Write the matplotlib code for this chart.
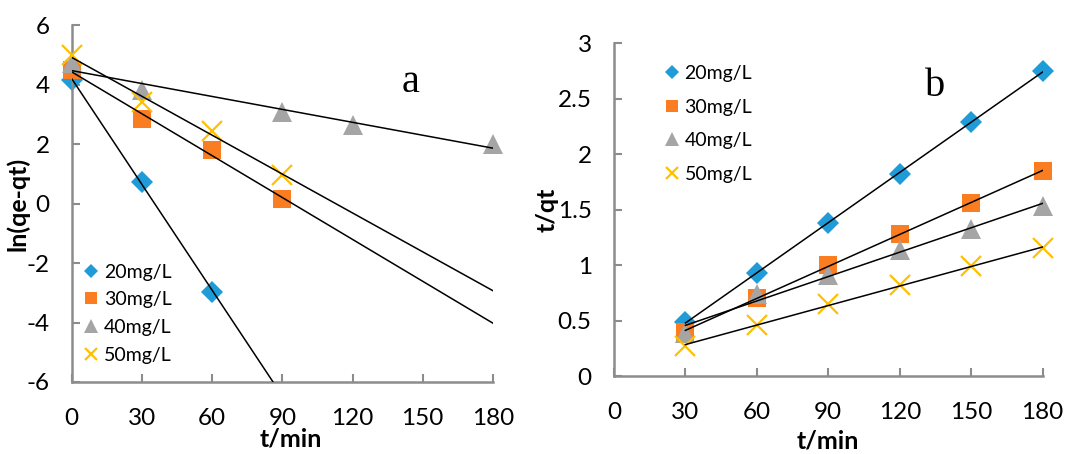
import numpy as np
import matplotlib
matplotlib.use('Agg')
import matplotlib.pyplot as plt

plt.rcParams['font.family'] = ['Lato', 'DejaVu Sans']

# Concentrações (legenda)
rotulos = ['20mg/L', '30mg/L', '40mg/L', '50mg/L']

# Painel a: pseudo-primeira ordem, ln(qe-qt) vs t
t_a_20 = [0, 30, 60]
y_a_20 = [4.15, 0.73, -2.96]
t_a_30 = [0, 30, 60, 90]
y_a_30 = [4.49, 2.83, 1.80, 0.14]
t_a_40 = [0, 30, 90, 120, 180]
y_a_40 = [4.72, 3.82, 3.09, 2.64, 2.0]
t_a_50 = [0, 30, 60, 90]
y_a_50 = [4.99, 3.42, 2.44, 0.96]

# Painel b: pseudo-segunda ordem, t/qt vs t
t_b = [30, 60, 90, 120, 150, 180]
y_b_20 = [0.49, 0.925, 1.376, 1.826, 2.29, 2.75]
y_b_30 = [0.40, 0.705, 1.0, 1.28, 1.56, 1.85]
y_b_40 = [0.39, 0.74, 0.91, 1.14, 1.33, 1.53]
y_b_50 = [0.27, 0.46, 0.65, 0.82, 0.99, 1.15]

ticks_a_x = [0, 30, 60, 90, 120, 150, 180]
ticks_a_y = [-6, -4, -2, 0, 2, 4, 6]
ticks_b_x = [0, 30, 60, 90, 120, 150, 180]
ticks_b_y = [0, 0.5, 1, 1.5, 2, 2.5, 3]

cores = ['#1F9BD7', '#FA7D22', '#A5A5A5', '#FFC000']
marcadores = ['D', 's', '^', 'x']
tamanhos = [11.5, 13.5, 15, 14]
cinza = '#8C8C8C'

fig = plt.figure(figsize=(10.88, 4.54), dpi=100)
ax1 = fig.add_axes([0.066, 0.1586, 0.387, 0.786])
ax2 = fig.add_axes([0.5643, 0.1718, 0.394, 0.7328])


def estilo(ax, xt, yt, xlim, ylim, ylabels):
    ax.set_xlim(*xlim)
    ax.set_ylim(*ylim)
    ax.set_xticks(xt)
    ax.set_yticks(yt)
    ax.set_yticklabels(ylabels)
    for s in ['top', 'right']:
        ax.spines[s].set_visible(False)
    for s in ['left', 'bottom']:
        ax.spines[s].set_color(cinza)
        ax.spines[s].set_linewidth(1.8)
    ax.tick_params(direction='in', length=6, width=1.5, color=cinza,
                   labelsize=17.5)
    ax.tick_params(axis='y', pad=16)
    ax.tick_params(axis='x', pad=19)


def serie(ax, x, y, i, x0, x1):
    ax.plot(x, y, linestyle='none', marker=marcadores[i], color=cores[i],
            markersize=tamanhos[i], markeredgewidth=1.6 if marcadores[i] == 'x' else 0,
            label=rotulos[i], clip_on=False, zorder=2 + i)
    # linha de tendência (regressão linear)
    a, b = np.polyfit(x, y, 1)
    xs = np.array([x0, x1])
    ax.plot(xs, a * xs + b, color='black', linewidth=1.1, zorder=10)


# ---- painel a ----
series_a = [(t_a_20, y_a_20), (t_a_30, y_a_30), (t_a_40, y_a_40), (t_a_50, y_a_50)]
for i, (x, y) in enumerate(series_a):
    serie(ax1, x, y, i, 0, 180)
estilo(ax1, ticks_a_x, ticks_a_y, (0, 180), (-6, 6), [str(v) for v in ticks_a_y])
ax1.set_xlabel('t/min', fontsize=18, fontweight='bold')
ax1.set_ylabel('ln(qe-qt)', fontsize=18, fontweight='bold')
ax1.xaxis.set_label_coords(0.52, -0.128)
ax1.yaxis.set_label_coords(-0.1, 0.5)
ax1.text(0.805, 0.84, 'a', transform=ax1.transAxes, fontsize=29,
         family='Liberation Serif', ha='center', va='center')
ax1.legend(loc='upper left', bbox_to_anchor=(0.0, 0.37), frameon=False,
           fontsize=14, markerscale=0.65, handlelength=0.6,
           handletextpad=0.35, labelspacing=0.55, borderaxespad=0.3)

# ---- painel b ----
series_b = [y_b_20, y_b_30, y_b_40, y_b_50]
for i, y in enumerate(series_b):
    serie(ax2, t_b, y, i, 30, 180)
estilo(ax2, ticks_b_x, ticks_b_y, (0, 180), (0, 3), ['0', '0.5', '1', '1.5', '2', '2.5', '3'])
ax2.set_xlabel('t/min', fontsize=18, fontweight='bold')
ax2.set_ylabel('t/qt', fontsize=18, fontweight='bold')
ax2.xaxis.set_label_coords(0.5, -0.16)
ax2.yaxis.set_label_coords(-0.128, 0.5)
ax2.text(0.75, 0.87, 'b', transform=ax2.transAxes, fontsize=29,
         family='Liberation Serif', ha='center', va='center')
ax2.legend(loc='upper left', bbox_to_anchor=(0.09, 0.975), frameon=False,
           fontsize=14, markerscale=0.65, handlelength=0.6,
           handletextpad=0.35, labelspacing=0.85, borderaxespad=0.3)

fig.savefig('out.png', dpi=100)
